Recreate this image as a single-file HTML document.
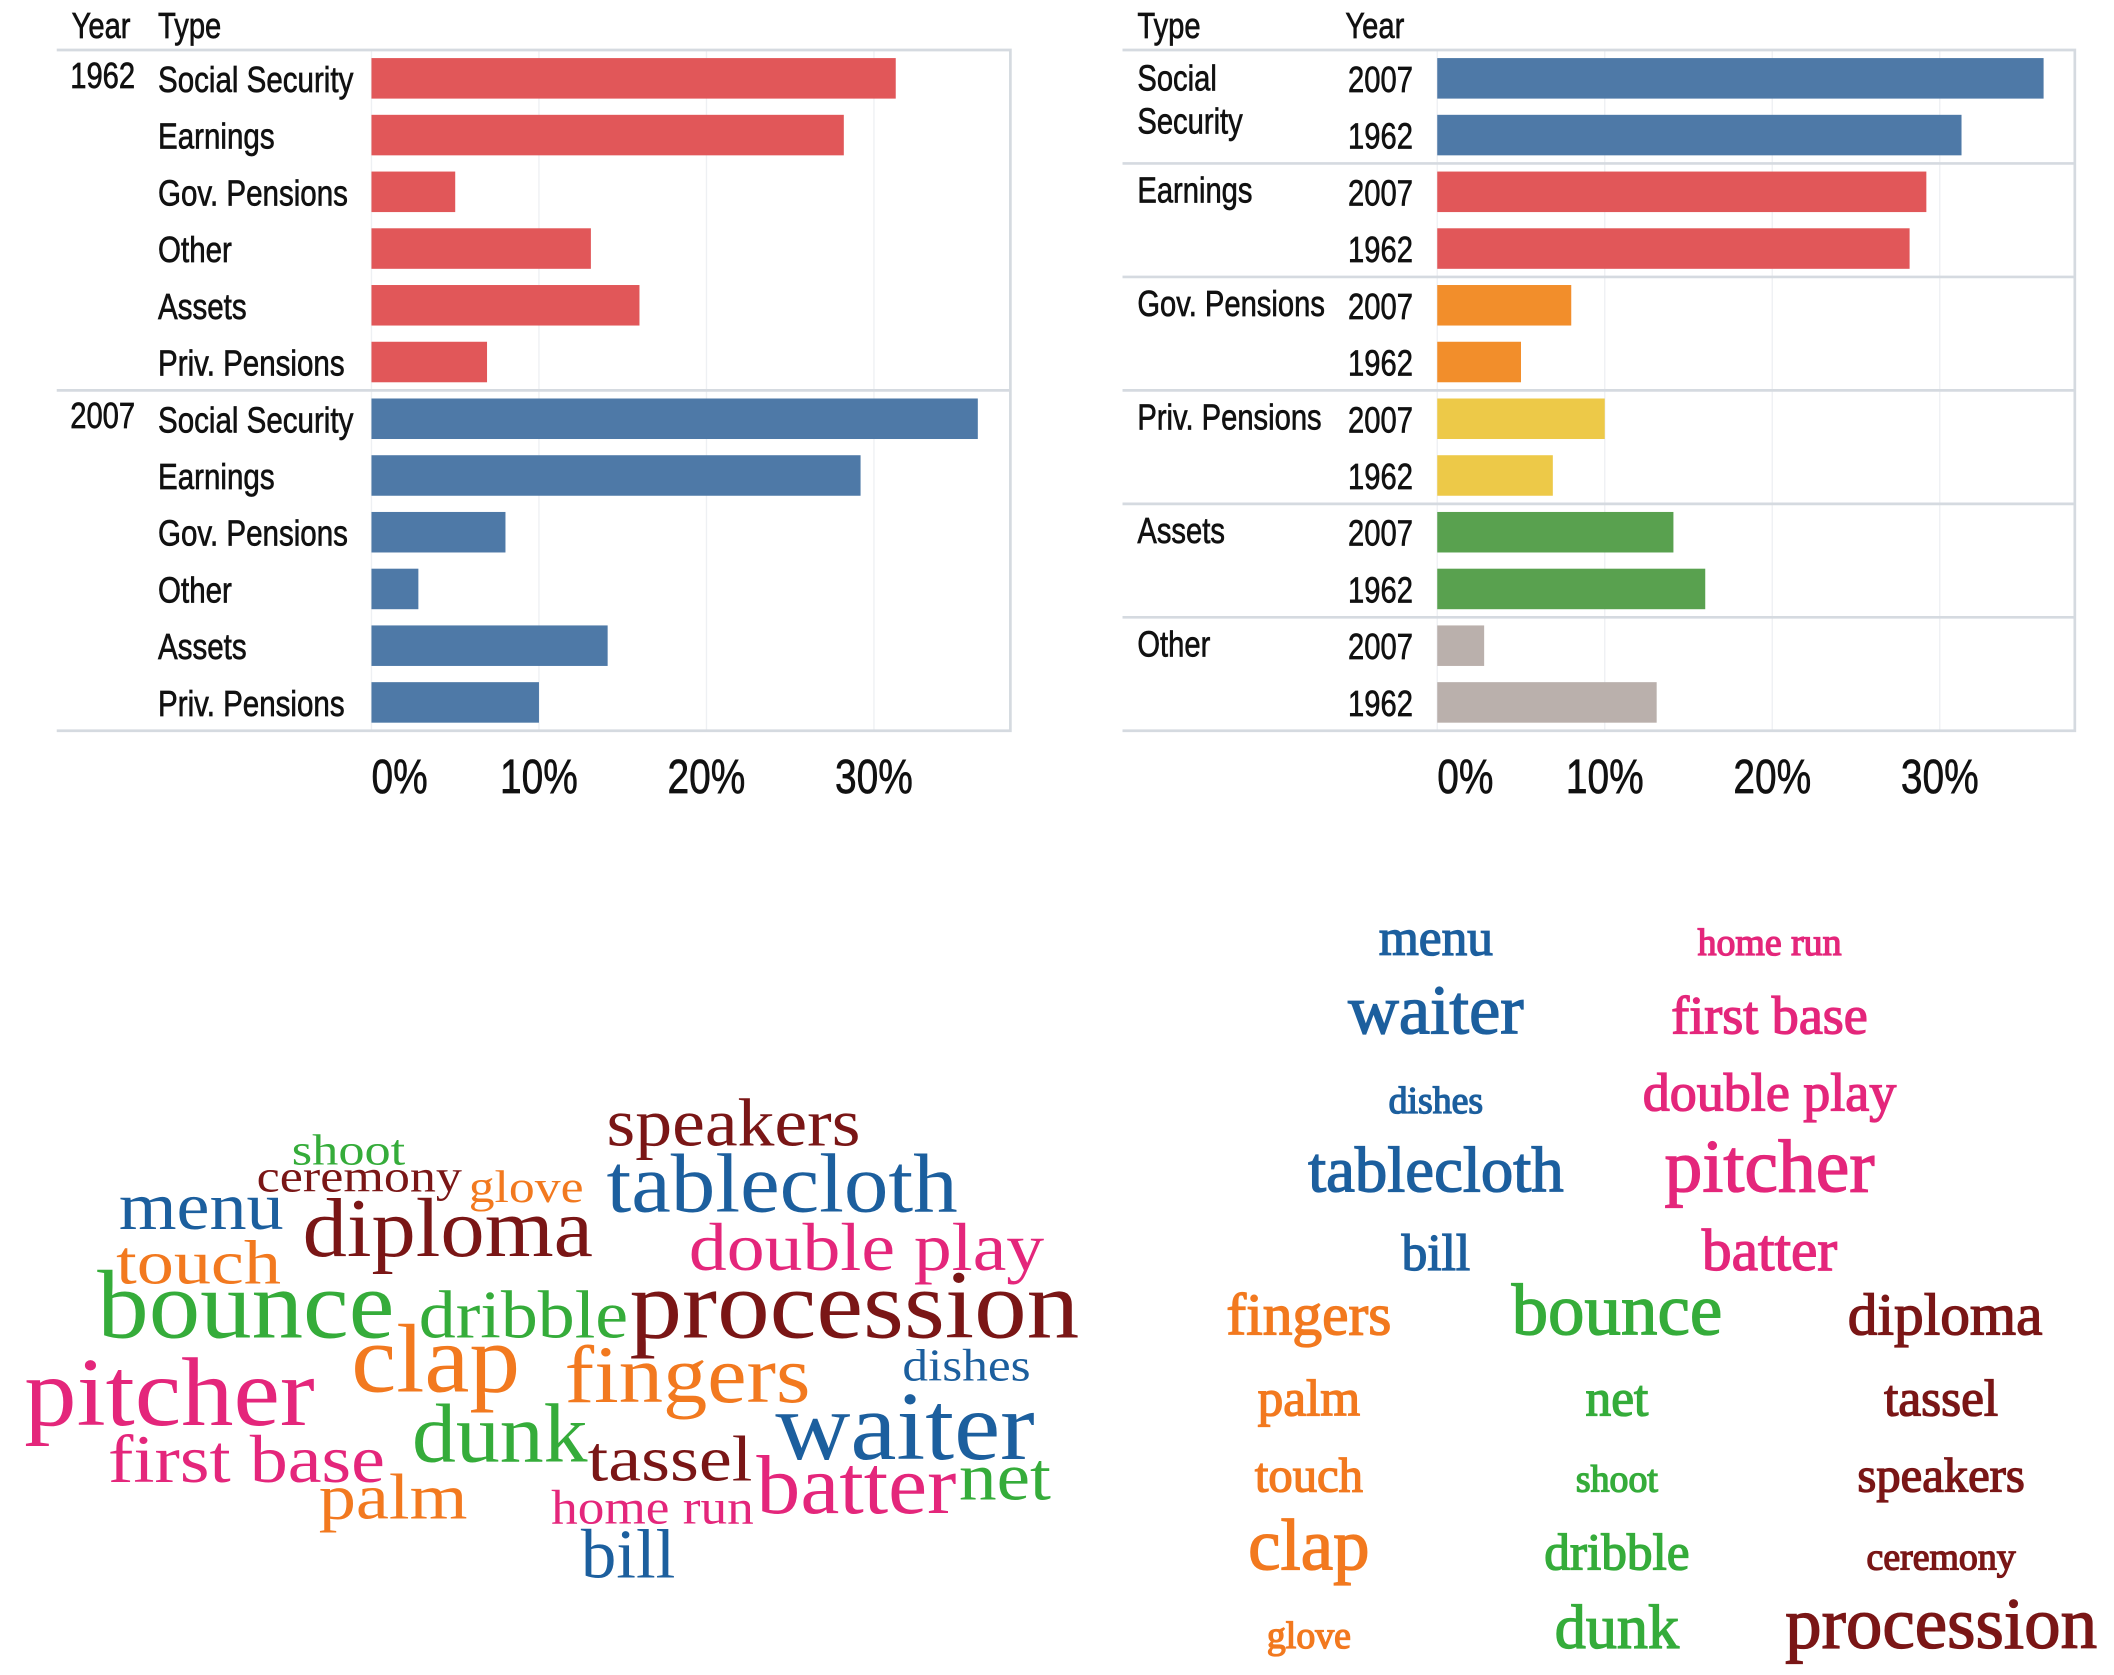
<!DOCTYPE html>
<html><head><meta charset="utf-8"><style>
html,body{margin:0;padding:0;background:#fff}
svg{display:block}
.lbl{font-family:"Liberation Sans",sans-serif;fill:#111;stroke:#111;stroke-width:0.5}
.cw{font-family:"Liberation Serif",serif}
</style></head><body>
<svg id="root" width="2114" height="1675" viewBox="0 0 1565 1240" preserveAspectRatio="none" xmlns="http://www.w3.org/2000/svg">
<g id="left-chart"></g>
<g id="right-chart"></g>
<g id="cloud-left"></g>
<g id="cloud-right"></g>
</svg>
<script>
const types = ["Social Security","Earnings","Gov. Pensions","Other","Assets","Priv. Pensions"];
const years = ["1962","2007"];
const values1962 = [31.3,28.2,5.0,13.1,16.0,6.9];
const values2007 = [36.2,29.2,8.0,2.8,14.1,10.0];
const rightTypes = ["Social Security","Earnings","Gov. Pensions","Priv. Pensions","Assets","Other"];
const rightColors = ["#4e79a7","#e15759","#f28e2b","#edc948","#59a14f","#bab0ac"];
const tickValues = [0,10,20,30];
const tickLabels = ["0%","10%","20%","30%"];

const NS="http://www.w3.org/2000/svg";
function mk(parent,tag,attrs){const e=document.createElementNS(NS,tag);for(const k in attrs)e.setAttribute(k,attrs[k]);parent.appendChild(e);return e;}
function txt(parent,x,y,s,size,sx,anchor){
  const t=mk(parent,"text",{class:"lbl","font-size":size,transform:`translate(${x},${y}) scale(${sx},1)`,"text-anchor":anchor||"start"});
  t.textContent=s;return t;}
function valueOf(type,year){const i=types.indexOf(type);return year==="1962"?values1962[i]:values2007[i];}

function drawChart(g,opts){
  const top=37,rowH=42,bottom=top+rowH*12;
  const x0=opts.barX, pxPer=12.4;
  const xs=v=>x0+v*pxPer;
  tickValues.forEach(v=>{const l=mk(g,"line",{x1:xs(v),x2:xs(v),y1:top,y2:bottom,stroke:"#eef0f3","stroke-width":1});
    
    });
  const fr=mk(g,"path",{d:`M${opts.left} ${top}H${opts.right}V${bottom}H${opts.left}`,fill:"none",stroke:"#d5dae0","stroke-width":2});
  
  
  opts.rows.forEach((r,i)=>{
    const yc=top+rowH*i+rowH/2;
    const b=mk(g,"rect",{x:x0,y:yc-15,width:Math.max(0,xs(r.v)-x0),height:30,fill:r.color});
    
    
  });
  opts.seps.forEach(i=>{const y=top+rowH*i;const s=mk(g,"line",{x1:opts.left,x2:opts.right,y1:y,y2:y,stroke:"#d5dae0","stroke-width":2});
    
    });
  tickValues.forEach((v,i)=>{const t=txt(g,xs(v),587,tickLabels[i],36,0.8,i===0?"start":"middle");
    
    });
}

const lg=document.getElementById("left-chart");
const lrows=[];
years.forEach(y=>types.forEach(t=>lrows.push({key:y+'-'+t.toLowerCase().replace(/[^a-z]+/g,'-'),v:valueOf(t,y),color:y==="1962"?"#e15759":"#4e79a7",t:t,y:y})));
drawChart(lg,{left:42,right:748,barX:275,rows:lrows,seps:[6]});
let h=txt(lg,53,28,"Year",27,0.8);
h=txt(lg,117,28,"Type",27,0.8);
lrows.forEach((r,i)=>{const yc=37+42*i+21+10;
  if(i%6===0){const y=txt(lg,52,yc-3,r.y,27,0.8);}
  const t=txt(lg,117,yc,r.t,27,0.81);});

const rg=document.getElementById("right-chart");
const rrows=[];
rightTypes.forEach((t,ti)=>["2007","1962"].forEach(y=>rrows.push({key:t.toLowerCase().replace(/[^a-z]+/g,'-')+'-'+y,v:valueOf(t,y),color:rightColors[ti],t:t,y:y})));
drawChart(rg,{left:831,right:1536,barX:1064,rows:rrows,seps:[2,4,6,8,10]});
h=txt(rg,842,28,"Type",27,0.8);
h=txt(rg,996,28,"Year",27,0.8);
rrows.forEach((r,i)=>{const yc=37+42*i+21+10;
  const y=txt(rg,1046,yc,r.y,27,0.8,"end");
  if(i%2===0){
    if(r.t==="Social Security"){
      let a=txt(rg,842,yc-1,"Social",27,0.8);
      a=txt(rg,842,yc+31,"Security",27,0.8);
    } else {const a=txt(rg,842,yc-2,r.t,27,0.8);}
  }});

const C={b:"#1c5f9e",p:"#e4267b",g:"#35ac3a",o:"#f2791f",r:"#7a1616"};
const leftWords=[
["speakers",449,848,188,50,"r"],["shoot",216,862,84,32,"g"],["ceremony",190,882,152,34,"r"],["glove",347,890,85,34,"o"],
["tablecloth",449,897,260,62,"b"],["menu",88,910,122,50,"b"],["diploma",224,930,215,62,"r"],["double play",510,940,263,50,"p"],
["touch",86,950,122,46,"o"],["bounce",72,990,220,72,"g"],["dribble",310,990,155,50,"g"],["procession",466,990,333,72,"r"],
["clap",260,1030,125,72,"o"],["dishes",668,1022,95,34,"b"],["fingers",418,1038,182,60,"o"],["pitcher",18,1055,215,72,"p"],
["waiter",574,1080,192,72,"b"],["dunk",305,1082,130,62,"g"],["first base",80,1097,205,50,"p"],["tassel",435,1096,122,48,"r"],
["net",710,1110,68,50,"g"],["batter",560,1120,148,62,"p"],["palm",236,1124,110,48,"o"],["home run",408,1128,150,36,"p"],["bill",430,1168,70,52,"b"]];
const cl=document.getElementById("cloud-left");
leftWords.forEach(w=>{const t=mk(cl,"text",{class:"cw",x:w[1],y:w[2],"font-size":w[4],fill:C[w[5]],textLength:w[3],lengthAdjust:"spacingAndGlyphs"});
  t.textContent=w[0];
  
  });
const rightWords=[
["menu",1063,707,38,"b"],["home run",1310,707,28,"p"],["waiter",1063,765,52,"b"],["first base",1310,765,40,"p"],
["dishes",1063,824,28,"b"],["double play",1310,822,40,"p"],["tablecloth",1063,882,48,"b"],["pitcher",1310,882,56,"p"],
["bill",1063,940,38,"b"],["batter",1310,940,44,"p"],["fingers",969,988,44,"o"],["bounce",1197,988,54,"g"],["diploma",1440,988,44,"r"],
["palm",969,1048,38,"o"],["net",1197,1048,38,"g"],["tassel",1437,1048,38,"r"],["touch",969,1104,36,"o"],["shoot",1197,1104,28,"g"],
["speakers",1437,1104,36,"r"],["clap",969,1162,54,"o"],["dribble",1197,1162,38,"g"],["ceremony",1437,1162,28,"r"],
["glove",969,1220,28,"o"],["dunk",1197,1220,46,"g"],["procession",1437,1220,54,"r"]];
const cr=document.getElementById("cloud-right");
rightWords.forEach(w=>{const t=mk(cr,"text",{class:"cw",x:w[1],y:w[2],"font-size":w[3],fill:C[w[4]],"text-anchor":"middle",stroke:C[w[4]],"stroke-width":1});
  t.textContent=w[0];
  
  });
</script>
</body></html>
